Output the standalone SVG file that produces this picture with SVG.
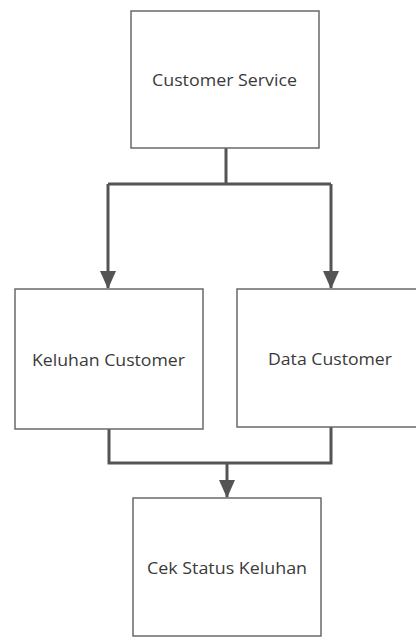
<svg xmlns="http://www.w3.org/2000/svg" width="416" height="637" viewBox="0 0 416 637">
<style>
.box{fill:#fff;stroke:#6a6a6a;stroke-width:1.5}
.lbl{font-family:"Open Sans","Liberation Sans",sans-serif;font-size:16px;fill:#3a3a3a;text-anchor:middle}
.con{fill:none;stroke:#545454;stroke-width:3}
</style>
<defs>
<marker id="ah" viewBox="0 0 18 16" refX="17" refY="8" markerWidth="18" markerHeight="16" markerUnits="userSpaceOnUse" orient="auto">
<path d="M0,0 L18,8 L0,16 Z" fill="#545454"/>
</marker>
</defs>
<rect width="416" height="637" fill="#fff"/>
<g id="connectors">
<path class="con" d="M226,148 V184"/>
<path class="con" d="M108,184 H331"/>
<path class="con" d="M108,184 V288" marker-end="url(#ah)"/>
<path class="con" d="M331,184 V288" marker-end="url(#ah)"/>
<path class="con" d="M109,429 V463 H331 V427"/>
<path class="con" d="M227,463 V497" marker-end="url(#ah)"/>
</g>
<g id="customer-service">
<rect class="box" x="131" y="11" width="188" height="137"/>
<text class="lbl" x="224.5" y="86" textLength="145" lengthAdjust="spacingAndGlyphs">Customer Service</text>
</g>
<g id="keluhan-customer">
<rect class="box" x="15" y="289" width="188" height="140"/>
<text class="lbl" x="108.5" y="366" textLength="153" lengthAdjust="spacingAndGlyphs">Keluhan Customer</text>
</g>
<g id="data-customer">
<rect class="box" x="237" y="289" width="190" height="138"/>
<text class="lbl" x="330" y="365" textLength="124" lengthAdjust="spacingAndGlyphs">Data Customer</text>
</g>
<g id="cek-status">
<rect class="box" x="133" y="498" width="188" height="138"/>
<text class="lbl" x="227" y="574" textLength="160" lengthAdjust="spacingAndGlyphs">Cek Status Keluhan</text>
</g>
</svg>
